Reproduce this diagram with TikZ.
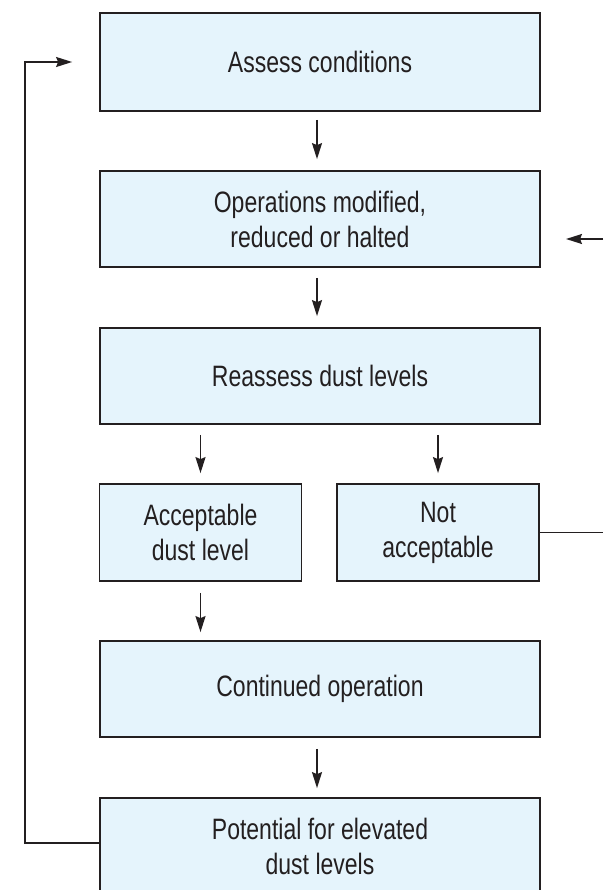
\documentclass[tikz,border=0pt]{standalone}
\usepackage{fontspec}
\setmainfont{Liberation Sans}[FakeStretch=0.78]
\usepackage{xcolor}
\usepackage{tikz}
\usetikzlibrary{arrows.meta}
\definecolor{boxfill}{RGB}{229,244,252}
\definecolor{ink}{RGB}{35,31,32}
\tikzstyle{stage}=[draw=ink,fill=boxfill,line width=1.8pt,minimum width=440pt,minimum height=96pt,inner sep=0pt,align=center,text=ink,font=\fontsize{29.5}{35}\selectfont]
\tikzstyle{halfstage}=[stage,minimum width=202pt,minimum height=97pt]
\tikzstyle{link}=[draw=ink,line width=1.6pt]
\tikzstyle{flow}=[link,-{Stealth[length=16pt,width=10pt,inset=2pt]}]

\begin{document}
\begin{tikzpicture}[x=1pt,y=-1pt]
					\useasboundingbox (0,0) rectangle (603,890);
					\node [stage,minimum height=98pt] (assess) at (320,62) {Assess conditions};
					\node [stage] (operations) at (320,219) {Operations modified,\\reduced or halted};
					\node [stage] (reassess) at (320,376) {Reassess dust levels};
					\node [halfstage] (acceptable) at (200.5,532.5) {Acceptable\\dust level};
					\node [halfstage] (notacc) at (438,532.5) {Not\\acceptable};
					\node [stage] (continued) at (320,689) {Continued operation};
					\node [stage,minimum height=97pt] (potential) at (320,846.5) {Potential for elevated\\dust levels};
					\coordinate (lefttop) at (25,62);
					\coordinate (rightout) at (603,532.5);
					\coordinate (rightin) at (603,239);
					\coordinate (backin) at (566,239);
					\draw [flow,shorten <=8pt,shorten >=11pt] ([xshift=-3pt]assess.south) -- ([xshift=-3pt]operations.north);
					\draw [flow,shorten <=10pt,shorten >=11pt] ([xshift=-3pt]operations.south) -- ([xshift=-3pt]reassess.north);
					\draw [flow,shorten <=10pt,shorten >=10pt] (reassess.south -| acceptable) -- (acceptable.north);
					\draw [flow,shorten <=10pt,shorten >=10pt] (reassess.south -| notacc) -- (notacc.north);
					\draw [flow,shorten <=11pt,shorten >=8pt] (acceptable.south) -- (continued.north -| acceptable);
					\draw [flow,shorten <=11pt,shorten >=9pt] ([xshift=-3pt]continued.south) -- ([xshift=-3pt]potential.north);
					\draw [flow] ([yshift=3.5pt]potential.west) -| (lefttop) -- ([xshift=-27pt]assess.west);
					\draw [link] (notacc.east) -- (rightout);
					\draw [flow] (rightin) -- (backin);
					\end{tikzpicture}
\end{document}
